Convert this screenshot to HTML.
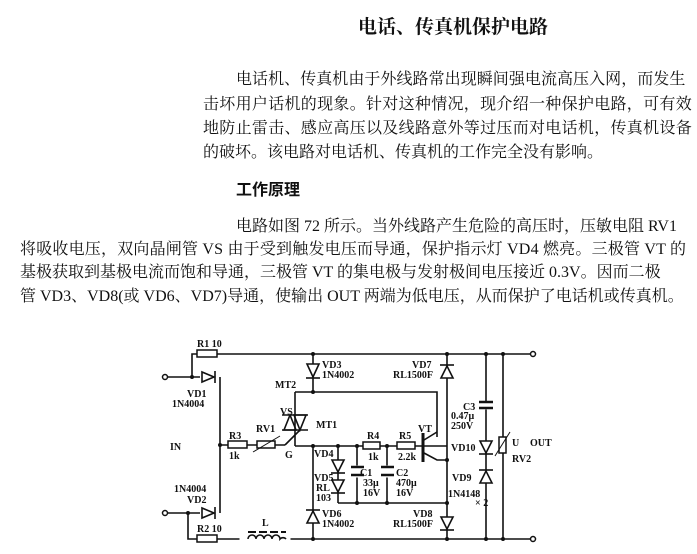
<!DOCTYPE html>
<html><head><meta charset="utf-8"><style>
body{margin:0;background:#fff;width:697px;height:554px;overflow:hidden;position:relative;font-family:"Liberation Serif","Noto Serif CJK SC","Noto Sans CJK SC",serif;color:#111}
.t{position:absolute;white-space:nowrap;font-size:16px;line-height:16px}
</style></head><body>
<div class="t" style="left:358px;top:20px;font-size:19px;font-weight:bold;font-family:'Liberation Serif','Noto Serif CJK SC',serif">电话、传真机保护电路</div>
<div class="t" style="left:236px;top:72px;letter-spacing:0.05px">电话机、传真机由于外线路常出现瞬间强电流高压入网，而发生</div>
<div class="t" style="left:203px;top:97px;letter-spacing:0.3px">击坏用户话机的现象。针对这种情况，现介绍一种保护电路，可有效</div>
<div class="t" style="left:203px;top:121px;letter-spacing:0.3px">地防止雷击、感应高压以及线路意外等过压而对电话机，传真机设备</div>
<div class="t" style="left:203px;top:145px">的破坏。该电路对电话机、传真机的工作完全没有影响。</div>
<div class="t" style="left:236px;top:183px;font-weight:bold;font-family:'Liberation Sans','Noto Sans CJK SC',sans-serif">工作原理</div>
<div class="t" style="left:236px;top:219px">电路如图 72 所示。当外线路产生危险的高压时，压敏电阻 RV1</div>
<div class="t" style="left:20px;top:242px;letter-spacing:0.2px">将吸收电压，双向晶闸管 VS 由于受到触发电压而导通，保护指示灯 VD4 燃亮。三极管 VT 的</div>
<div class="t" style="left:20px;top:265px">基极获取到基极电流而饱和导通，三极管 VT 的集电极与发射极间电压接近 0.3V。因而二极</div>
<div class="t" style="left:20px;top:289px">管 VD3、VD8(或 VD6、VD7)导通，使输出 OUT 两端为低电压，从而保护了电话机或传真机。</div>

<svg width="697" height="554" style="position:absolute;left:0;top:0" font-family="Liberation Serif,serif" font-size="10" font-weight="bold">
<g stroke="#111" stroke-width="1.6" fill="none">
<polyline points="192,377 192,354 530,354"/>
<polyline points="188,513 188,539 530,539"/>
<line x1="168" y1="377" x2="200" y2="377"/>
<line x1="168" y1="513" x2="200" y2="513"/>
<polyline points="220,377 220,513"/>
<line x1="220" y1="445" x2="285" y2="445"/>
<polyline points="295,392 437,392 437,437"/>
<line x1="295" y1="392" x2="295" y2="446"/>
<line x1="295" y1="446" x2="447" y2="446"/>
<line x1="285" y1="445" x2="300" y2="430"/>
<line x1="313" y1="354" x2="313" y2="392"/>
<line x1="313" y1="446" x2="313" y2="539"/>
<line x1="338" y1="446" x2="338" y2="503"/>
<line x1="338" y1="503" x2="447" y2="503"/>
<line x1="357" y1="446" x2="357" y2="503"/>
<line x1="387" y1="446" x2="387" y2="503"/>
<line x1="447" y1="354" x2="447" y2="539"/>
<line x1="486" y1="354" x2="486" y2="539"/>
<line x1="503" y1="354" x2="503" y2="539"/>
<line x1="423" y1="433" x2="423" y2="462" stroke-width="3"/>
<line x1="424" y1="440" x2="437" y2="432"/>
<polyline points="424,453 437,460 447,460"/>
</g>
<g fill="#fff" stroke="#111" stroke-width="1.5">
<rect x="197" y="350" width="20" height="7"/>
<rect x="197" y="535" width="20" height="7"/>
<rect x="228" y="441" width="19" height="7"/>
<rect x="257" y="441" width="18" height="7"/>
<rect x="363" y="442" width="17" height="7"/>
<rect x="397" y="442" width="18" height="7"/>
<rect x="499" y="437" width="7" height="16"/>
<circle cx="165" cy="377" r="2.5"/><circle cx="165" cy="513" r="2.5"/>
<circle cx="533" cy="354" r="2.5"/><circle cx="533" cy="539" r="2.5"/>
</g>
<g fill="#fff" stroke="#fff"><rect x="240" y="536" width="50" height="6"/><rect x="480" y="402" width="12" height="7"/><rect x="353" y="466" width="9" height="11"/><rect x="383" y="466" width="9" height="11"/></g>
<g stroke="#111" stroke-width="1.6" fill="none">
<path d="M248,539 a4,4 0 0 1 8,0 a4,4 0 0 1 8,0 a4,4 0 0 1 8,0 a4,4 0 0 1 8,0 a4,4 0 0 1 6,0"/>
<line x1="248" y1="532" x2="286" y2="532" stroke-dasharray="8,3" stroke-width="2"/>
<line x1="479" y1="402" x2="493" y2="402" stroke-width="2.5"/><line x1="479" y1="408" x2="493" y2="408" stroke-width="2.5"/>
<line x1="351" y1="467" x2="364" y2="467" stroke-width="2.5"/><line x1="351" y1="475" x2="364" y2="475" stroke-width="2.5"/>
<line x1="381" y1="467" x2="394" y2="467" stroke-width="2.5"/><line x1="381" y1="475" x2="394" y2="475" stroke-width="2.5"/>
<line x1="253" y1="452" x2="280" y2="436" stroke-width="1"/>
<line x1="495" y1="456" x2="510" y2="432" stroke-width="1"/>
<line x1="282" y1="415" x2="308" y2="415"/><line x1="282" y1="430" x2="308" y2="430"/>
<polygon points="284,430 290,415 296,430"/><polygon points="294,415 300,430 306,415"/>
</g>
<g fill="#fff" stroke="#111" stroke-width="1.6">
<polygon points="202,372 202,382 214,377"/><line x1="215" y1="371" x2="215" y2="383"/>
<polygon points="202,508 202,518 214,513"/><line x1="215" y1="507" x2="215" y2="519"/>
<polygon points="307,364 319,364 313,377"/><line x1="306" y1="378" x2="320" y2="378"/>
<polygon points="307,523 319,523 313,511"/><line x1="306" y1="510" x2="320" y2="510"/>
<polygon points="441,378 453,378 447,366"/><line x1="440" y1="365" x2="454" y2="365"/>
<polygon points="441,517 453,517 447,529"/><line x1="440" y1="530" x2="454" y2="530"/>
<polygon points="332,460 344,460 338,472"/><line x1="331" y1="473" x2="345" y2="473"/>
<polygon points="332,480 344,480 338,492"/><line x1="331" y1="493" x2="345" y2="493"/>
<polygon points="480,441 492,441 486,453"/><line x1="479" y1="454" x2="493" y2="454"/>
<polygon points="480,483 492,483 486,471"/><line x1="479" y1="470" x2="493" y2="470"/>
</g>
<g fill="#111">
<circle cx="192" cy="377" r="2"/><circle cx="188" cy="513" r="2"/><circle cx="220" cy="445" r="2"/>
<circle cx="313" cy="354" r="2"/><circle cx="313" cy="392" r="2"/><circle cx="313" cy="446" r="2"/><circle cx="313" cy="539" r="2"/>
<circle cx="338" cy="446" r="2"/><circle cx="357" cy="446" r="2"/><circle cx="387" cy="446" r="2"/><circle cx="357" cy="503" r="2"/><circle cx="387" cy="503" r="2"/>
<circle cx="447" cy="354" r="2"/><circle cx="447" cy="460" r="2"/><circle cx="447" cy="503" r="2"/><circle cx="447" cy="539" r="2"/>
<circle cx="486" cy="354" r="2"/><circle cx="486" cy="539" r="2"/><circle cx="503" cy="354" r="2"/><circle cx="503" cy="539" r="2"/>
<text x="197" y="347">R1 10</text>
<text x="187" y="397">VD1</text><text x="172" y="407">1N4004</text>
<text x="170" y="450">IN</text>
<text x="174" y="492">1N4004</text><text x="187" y="503">VD2</text>
<text x="197" y="532">R2  10</text><text x="262" y="526">L</text>
<text x="229" y="439">R3</text><text x="229" y="459">1k</text>
<text x="256" y="432">RV1</text><text x="285" y="458">G</text>
<text x="280" y="415">VS</text><text x="275" y="388">MT2</text><text x="316" y="428">MT1</text>
<text x="322" y="368">VD3</text><text x="322" y="378">1N4002</text>
<text x="322" y="517">VD6</text><text x="322" y="527">1N4002</text>
<text x="314" y="457">VD4</text><text x="314" y="481">VD5</text><text x="316" y="491">RL</text><text x="316" y="501">103</text>
<text x="367" y="439">R4</text><text x="368" y="460">1k</text>
<text x="399" y="439">R5</text><text x="398" y="460">2.2k</text>
<text x="360" y="476">C1</text><text x="363" y="486">33μ</text><text x="363" y="496">16V</text>
<text x="396" y="476">C2</text><text x="396" y="486">470μ</text><text x="396" y="496">16V</text>
<text x="418" y="432">VT</text>
<text x="412" y="368">VD7</text><text x="393" y="378">RL1500F</text>
<text x="413" y="517">VD8</text><text x="393" y="527">RL1500F</text>
<text x="463" y="410">C3</text><text x="451" y="419">0.47μ</text><text x="451" y="429">250V</text>
<text x="451" y="451">VD10</text><text x="452" y="481">VD9</text><text x="448" y="497">1N4148</text><text x="475" y="506">× 2</text>
<text x="512" y="446">U</text><text x="530" y="446">OUT</text><text x="512" y="462">RV2</text>
</g>
</svg>
</body></html>
